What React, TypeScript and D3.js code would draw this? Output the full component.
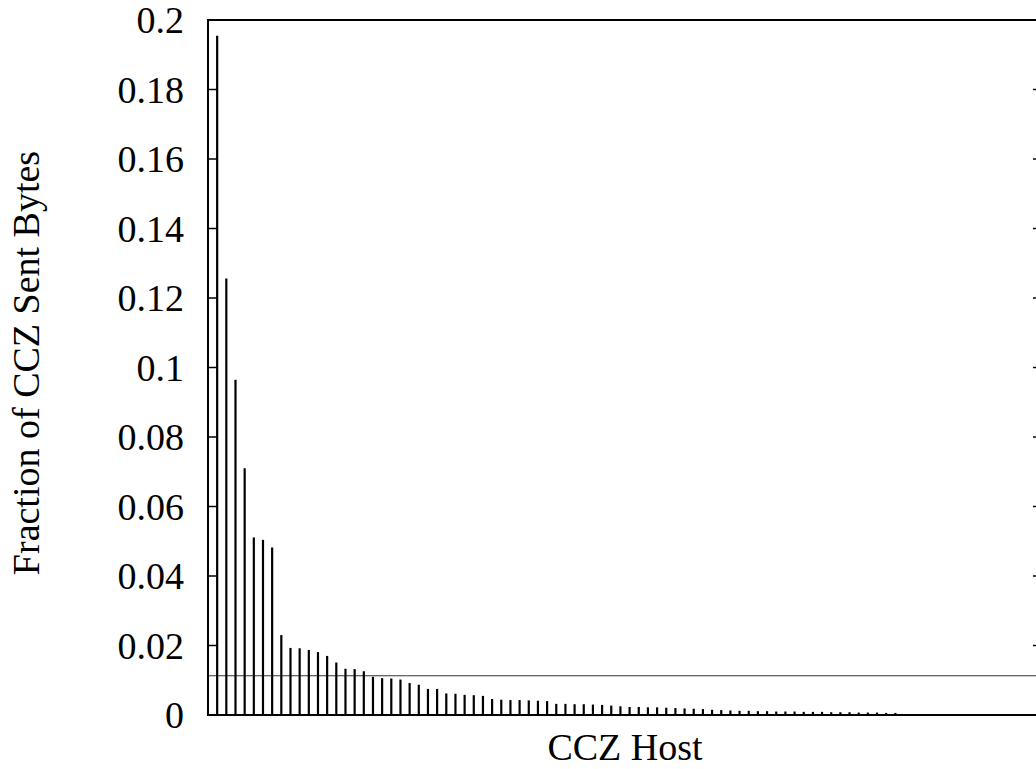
import React from "react";
import * as d3 from "d3";

const hostValues: number[] = [
  0.1955, 0.1256, 0.0965, 0.071, 0.0511, 0.0504, 0.0482, 0.023, 0.0193, 0.0192,
  0.0187, 0.0181, 0.017, 0.0151, 0.0133, 0.0132, 0.0126, 0.011, 0.0106, 0.0105,
  0.0102, 0.0092, 0.0087, 0.0075, 0.0075, 0.0062, 0.0061, 0.0058, 0.0057, 0.0055,
  0.0046, 0.0044, 0.0043, 0.0043, 0.0042, 0.0041, 0.004, 0.0032, 0.0032, 0.0031,
  0.0031, 0.003, 0.0029, 0.0027, 0.0025, 0.0023, 0.0023, 0.0022, 0.0022, 0.0021,
  0.002, 0.0019, 0.0018, 0.0017, 0.0015, 0.0014, 0.0013, 0.0012, 0.0012, 0.0011,
  0.0011, 0.001, 0.001, 0.001, 0.0009, 0.0009, 0.0009, 0.0008, 0.0008, 0.0008,
  0.0007, 0.0007, 0.0007, 0.0006, 0.0006,
];
const averageLine = 0.0113;
const yTicks: number[] = [0, 0.02, 0.04, 0.06, 0.08, 0.1, 0.12, 0.14, 0.16, 0.18, 0.2];
const yTickLabels: string[] = ["0", "0.02", "0.04", "0.06", "0.08", "0.1", "0.12", "0.14", "0.16", "0.18", "0.2"];
const xDomainMax = 91;
const xLabel = "CCZ Host";
const yLabel = "Fraction of CCZ Sent Bytes";

export default function App() {
  const W = 1036;
  const H = 769;
  const left = 208;
  const right = 1042;
  const top = 20;
  const bottom = 715;
  const x = d3.scaleLinear().domain([0, xDomainMax]).range([left, right]);
  const y = d3.scaleLinear().domain([0, 0.2]).range([bottom, top]);
  const font = "'Liberation Serif', 'Times New Roman', serif";
  const fs = 38;

  return (
    <svg
      width={W}
      height={H}
      style={{ position: "absolute", left: 0, top: 0, background: "#fff" }}
    >
      <rect x={0} y={0} width={W} height={H} fill="#fff" />
      {/* average line */}
      <line x1={left} x2={right} y1={y(averageLine)} y2={y(averageLine)} stroke="#333" strokeWidth={1.2} />
      {/* bars */}
      {hostValues.map((v, i) => (
        <line
          key={i}
          x1={x(i + 1)}
          x2={x(i + 1)}
          y1={y(0)}
          y2={y(v)}
          stroke="#000"
          strokeWidth={2.2}
        />
      ))}
      {/* ticks */}
      {yTicks.map((t, i) => (
        <g key={i}>
          <line x1={left} x2={left + 9} y1={y(t)} y2={y(t)} stroke="#000" strokeWidth={1.5} />
          <line x1={right - 9} x2={right} y1={y(t)} y2={y(t)} stroke="#000" strokeWidth={1.5} />
          <text
            x={184}
            y={y(t)}
            textAnchor="end"
            dominantBaseline="central"
            fontFamily={font}
            fontSize={fs}
            fill="#000"
          >
            {yTickLabels[i]}
          </text>
        </g>
      ))}
      {/* frame */}
      <rect x={left} y={top} width={right - left} height={bottom - top} fill="none" stroke="#000" strokeWidth={2} />
      <text x={(left + right) / 2} y={760} textAnchor="middle" fontFamily={font} fontSize={fs} fill="#000">
        {xLabel}
      </text>
      <text
        transform={`translate(39, 363) rotate(-90)`}
        textAnchor="middle"
        fontFamily={font}
        fontSize={fs}
        fill="#000"
      >
        {yLabel}
      </text>
    </svg>
  );
}
